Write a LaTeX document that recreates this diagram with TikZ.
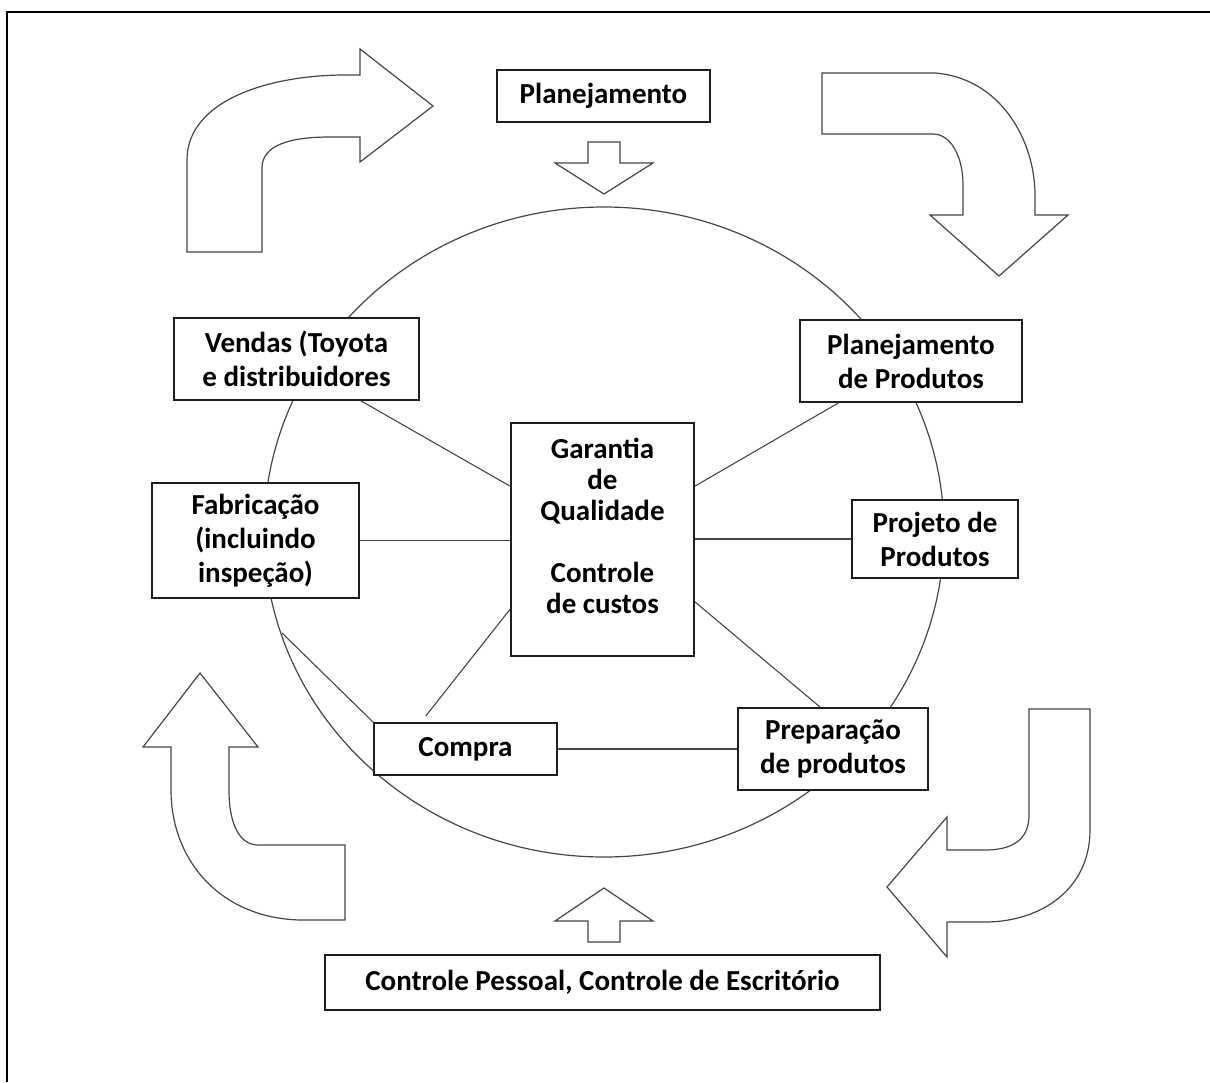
\documentclass[tikz,border=0pt]{standalone}
\usepackage{fontspec}
\setmainfont{Carlito}
\usepackage{tikz}
\definecolor{BoxLine}{RGB}{30,30,30}
\definecolor{ShapeLine}{RGB}{70,70,70}

\begin{document}
\begin{tikzpicture}[x=0.5pt,y=-0.5pt,
    box/.style={draw=BoxLine,line width=0.8pt,inner sep=0pt,align=center,
                font=\fontsize{14.5}{17}\selectfont\bfseries},
    bigarrow/.style={draw=ShapeLine,line width=0.6pt,fill=white,line join=miter},
    link/.style={draw=ShapeLine,line width=0.55pt}]
    \useasboundingbox (0,0) rectangle (1210,1082);
    % frame
    \draw[line width=1pt] (7,1082) -- (7,12) -- (1210,12);

    % circle
    \draw[ShapeLine,line width=0.6pt] (604,532) ellipse [x radius=170pt,y radius=162.5pt];

    % curved arrows round the circle
    \draw[bigarrow] (187,252) -- (187,160) .. controls (187,100) and (270,75) .. (345,75)
      -- (360,75) -- (360,49) -- (433,106) -- (360,162) -- (360,137) -- (330,137)
      .. controls (290,137) and (262,145) .. (262,168) -- (262,252) -- cycle;
    \draw[bigarrow] (822,73) -- (935,73) .. controls (1000,78) and (1035,140) .. (1035,195)
      -- (1035,215) -- (1068,215) -- (999,276) -- (930,215) -- (963,215) -- (963,185)
      .. controls (963,155) and (950,134) .. (933,134) -- (822,134) -- cycle;
    \draw[bigarrow] (1029,709) -- (1090,709) -- (1090,830) .. controls (1090,890) and (1040,922) .. (985,922)
      -- (947,922) -- (947,957) -- (887,887) -- (947,817) -- (947,850) -- (985,850)
      .. controls (1012,850) and (1029,840) .. (1029,815) -- cycle;
    \draw[bigarrow] (200,673) -- (258,747) -- (229,747) -- (229,790)
      .. controls (229,825) and (240,845) .. (258,845) -- (345,845) -- (345,920) -- (300,920)
      .. controls (220,918) and (171,860) .. (171,790) -- (171,747) -- (143,747) -- cycle;

    % small arrows
    \draw[bigarrow] (588,142) -- (620,142) -- (620,163) -- (653,163) -- (604,194)
      -- (555,163) -- (588,163) -- cycle;
    \draw[bigarrow] (588,942) -- (620,942) -- (620,921) -- (653,921) -- (604,888)
      -- (555,921) -- (588,921) -- cycle;

    % boxes
    \node[box,minimum width=106.5pt,minimum height=26pt] (plan) at (603.5,96) {Planejamento};
    \node[box,fill=white,minimum width=111pt,minimum height=41pt] (planprod) at (911,361) {Planejamento\\de Produtos};
    \node[box,fill=white,minimum width=83pt,minimum height=39pt] (projeto) at (935,539) {Projeto de\\Produtos};
    \node[box,fill=white,minimum width=95pt,minimum height=41pt] (prep) at (833,749) {Preparação\\de produtos};
    \node[box,fill=white,minimum width=91.5pt,minimum height=26pt] (compra) at (465.5,749) {Compra};
    \node[box,fill=white,minimum width=103.5pt,minimum height=57.5pt] (fabric) at (255.5,540.5) {Fabricação\\(incluindo\\inspeção)};
    \node[box,fill=white,minimum width=122.5pt,minimum height=41pt] (vendas) at (296.5,359) {Vendas (Toyota\\e distribuidores};
    \node[box,align=none] (garantia) at (602.5,539.5) {\parbox[c][116.5pt][t]{91.5pt}{\centering
      \fontsize{14.5}{15.5}\selectfont\vspace*{7.5pt}Garantia\\de\\Qualidade\\[15.5pt]Controle\\de custos}};
    \node[box,minimum width=277.5pt,minimum height=27.5pt] (pessoal) at (602.5,982.5) {Controle Pessoal, Controle de Escritório};

    % links to the centre
    \coordinate (rim) at (282,633);
    \draw[link] (vendas.-33) -- (garantia.150);
    \draw[link] (planprod.210.7) -- (garantia.30);
    \draw[link] (fabric.east) -- (fabric.east -| garantia.west);
    \draw[link] (projeto.west) -- (projeto.west -| garantia.east);
    \draw[link,shorten >=4pt] (garantia.217.6) -- (compra.149);
    \draw[link] (garantia.-34) -- (prep.107.6);
    \draw[link] (compra.east) -- (prep.west);
    \draw[link] (rim) -- (compra.north west);
\end{tikzpicture}
\end{document}
